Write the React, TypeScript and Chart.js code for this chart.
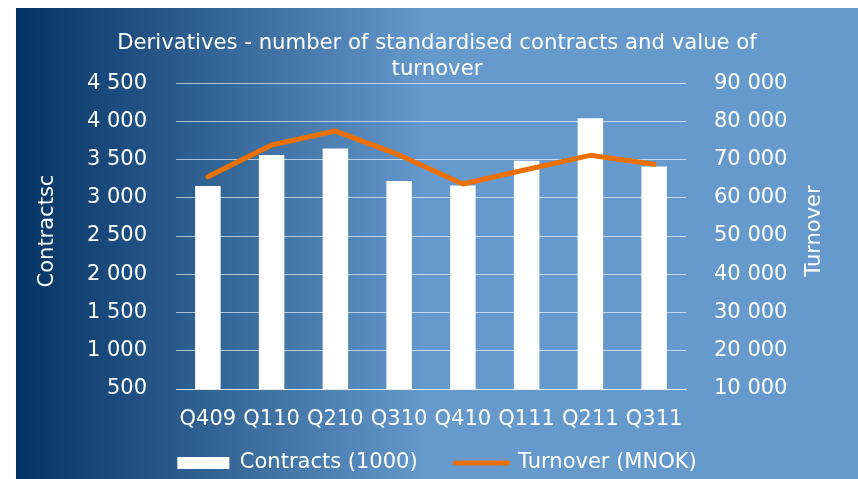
import React, { useEffect, useRef } from 'react';
import { Chart, registerables } from 'chart.js';

Chart.register(...registerables);

const categories = ['Q409', 'Q110', 'Q210', 'Q310', 'Q410', 'Q111', 'Q211', 'Q311'];
const contracts = [3155, 3560, 3645, 3220, 3160, 3485, 4040, 3410];
const turnover = [65500, 73800, 77450, 71200, 63600, 67400, 71100, 68750];

const leftMin = 500;
const leftMax = 4500;
const leftStep = 500;
const rightMin = 10000;
const rightMax = 90000;
const rightStep = 10000;

const titleLines = ['Derivatives - number of standardised contracts and value of', 'turnover'];
const leftAxisTitle = 'Contractsc';
const rightAxisTitle = 'Turnover';
const barLabel = 'Contracts (1000)';
const lineLabel = 'Turnover (MNOK)';

const FONT = '"DejaVu Sans", Verdana, sans-serif';
const ORANGE = '#EB7000';
const GRID = 'rgba(255,255,255,0.62)';

const fmt = (v: number | string) =>
  String(v).replace(/\B(?=(\d{3})+(?!\d))/g, ' ');

const axisTitlePlugin = {
  id: 'axisTitlesRotated',
  afterDraw(chart: any) {
    const { ctx, chartArea } = chart;
    const cy = (chartArea.top + chartArea.bottom) / 2 - 5;
    ctx.save();
    ctx.fillStyle = '#FFFFFF';
    ctx.font = `21px ${FONT}`;
    ctx.textAlign = 'center';
    ctx.textBaseline = 'middle';
    const draw = (text: string, x: number) => {
      ctx.save();
      ctx.translate(x, cy);
      ctx.rotate(-Math.PI / 2);
      ctx.fillText(text, 0, 0);
      ctx.restore();
    };
    draw(leftAxisTitle, chartArea.left - 128);
    draw(rightAxisTitle, chartArea.right + 129);
    ctx.restore();
  },
};

export default function App() {
  const ref = useRef<HTMLCanvasElement | null>(null);

  useEffect(() => {
    document.documentElement.style.overflow = 'hidden';
    const canvas = ref.current;
    if (!canvas) return;
    const chart = new Chart(canvas, {
      type: 'bar',
      data: {
        labels: categories,
        datasets: [
          {
            type: 'line',
            label: lineLabel,
            data: turnover,
            yAxisID: 'y1',
            borderColor: ORANGE,
            backgroundColor: ORANGE,
            borderWidth: 5,
            pointRadius: 0,
            pointHoverRadius: 0,
            tension: 0,
            borderCapStyle: 'round',
            borderJoinStyle: 'round',
          } as any,
          {
            type: 'bar',
            label: barLabel,
            data: contracts,
            yAxisID: 'y',
            backgroundColor: '#FFFFFF',
            borderWidth: 0,
            barPercentage: 0.4,
            categoryPercentage: 1,
          } as any,
        ],
      },
      options: {
        responsive: false,
        animation: false,
        devicePixelRatio: 1,
        layout: { padding: 0 },
        plugins: {
          tooltip: { enabled: false },
          title: {
            display: true,
            text: titleLines,
            color: '#FFFFFF',
            font: { family: FONT, size: 21.2, weight: 'normal', lineHeight: 1.23 },
            padding: { top: 22.5, bottom: 0.4 },
          },
          legend: {
            display: true,
            position: 'bottom',
            maxHeight: 64.5,
            labels: {
              color: '#FFFFFF',
              font: { family: FONT, size: 21 },
              usePointStyle: true,
              pointStyleWidth: 52,
              boxHeight: 12,
              padding: 38,
              generateLabels: (c: any) => {
                const items = Chart.defaults.plugins.legend.labels.generateLabels(c);
                items.forEach((it: any) => {
                  if (it.datasetIndex === 1) {
                    it.pointStyle = 'rect';
                    it.fillStyle = '#FFFFFF';
                    it.lineWidth = 0;
                  } else {
                    it.pointStyle = 'line';
                    it.strokeStyle = ORANGE;
                    it.lineWidth = 5;
                    it.lineCap = 'round';
                  }
                  it.fontColor = '#FFFFFF';
                });
                return items.reverse();
              },
            },
          },
        },
        scales: {
          x: {
            grid: { display: true, drawOnChartArea: false, drawTicks: false },
            border: { display: true, color: GRID, width: 1 },
            ticks: {
              color: '#FFFFFF',
              font: { family: FONT, size: 21 },
              mirror: true,
              padding: -43,
              maxRotation: 0,
              autoSkip: false,
            },
            afterFit: (s: any) => {
              s.height = 25.5;
            },
          },
          y: {
            position: 'left',
            min: leftMin,
            max: leftMax,
            grid: { color: GRID, lineWidth: 1, drawTicks: false },
            border: { display: false },
            ticks: {
              stepSize: leftStep,
              color: '#FFFFFF',
              font: { family: FONT, size: 21 },
              padding: 29,
              callback: (v: any) => fmt(v),
            },
            afterFit: (s: any) => {
              s.width = 160;
            },
          },
          y1: {
            position: 'right',
            min: rightMin,
            max: rightMax,
            grid: { drawOnChartArea: false, drawTicks: false },
            border: { display: false },
            ticks: {
              stepSize: rightStep,
              color: '#FFFFFF',
              font: { family: FONT, size: 21 },
              padding: 28,
              callback: (v: any) => fmt(v),
            },
            afterFit: (s: any) => {
              s.width = 172;
            },
          },
        },
      },
      plugins: [axisTitlePlugin],
    } as any);
    return () => chart.destroy();
  }, []);

  return (
    <div
      style={{
        position: 'fixed',
        left: 16,
        top: 8,
        width: 842,
        height: 471,
        background: 'linear-gradient(to right, #033363 0%, #6699CC 49%, #6699CC 100%)',
      }}
    >
      <canvas ref={ref} width={842} height={471} style={{ display: 'block', width: 842, height: 471 }} />
    </div>
  );
}
